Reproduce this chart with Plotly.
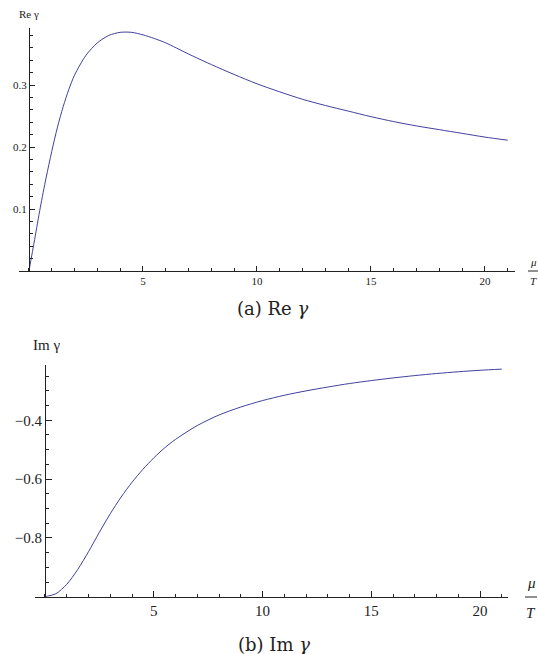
import plotly.graph_objects as go

# ---- data ----
re_x = [0, 0.25, 0.5, 0.75, 1, 1.25, 1.5, 1.75, 2, 2.5, 3, 3.5, 4, 4.5, 5, 5.5, 6, 7, 8, 9, 10,
        11, 12, 13, 14, 15, 16, 17, 18, 19, 20, 21]
re_y = [0, 0.051, 0.103, 0.150, 0.193, 0.232, 0.265, 0.293, 0.316, 0.348, 0.368, 0.380, 0.385,
        0.385, 0.381, 0.375, 0.368, 0.350, 0.333, 0.317, 0.302, 0.289, 0.277, 0.267, 0.258,
        0.249, 0.241, 0.234, 0.228, 0.222, 0.216, 0.211]

im_x = [0, 0.5, 1, 1.5, 2, 2.5, 3, 3.5, 4, 4.5, 5, 5.5, 6, 7, 8, 9, 10, 11, 12, 13, 14, 15,
        16, 17, 18, 19, 20, 21]
im_y = [-1.0, -0.99, -0.958, -0.908, -0.847, -0.781, -0.718, -0.661, -0.611, -0.567, -0.528,
        -0.494, -0.465, -0.418, -0.382, -0.355, -0.333, -0.315, -0.300, -0.287, -0.275, -0.265,
        -0.256, -0.248, -0.241, -0.235, -0.230, -0.226]

x_ticks = [5, 10, 15, 20]
re_ticks = [0.1, 0.2, 0.3]
im_ticks = [-0.8, -0.6, -0.4]
im_ticktext = ["\u22120.8", "\u22120.6", "\u22120.4"]

W, H = 538, 654
LINE = "#40409e"
FONT = "Liberation Serif, Times New Roman, serif"
CAPFONT = "DejaVu Serif, serif"


def px(x):
    return x / W


def py(y):
    return 1 - y / H


fig = go.Figure()
fig.add_trace(go.Scatter(x=re_x, y=re_y, mode="lines", line=dict(color=LINE, width=1,
                                                              shape="spline", smoothing=0.8),
                         xaxis="x", yaxis="y", showlegend=False, hoverinfo="skip"))
fig.add_trace(go.Scatter(x=im_x, y=im_y, mode="lines", line=dict(color=LINE, width=1,
                                                              shape="spline", smoothing=0.8),
                         xaxis="x2", yaxis="y2", showlegend=False, hoverinfo="skip"))

axis_common = dict(showgrid=False, zeroline=False, showline=True, linecolor="#222",
                   linewidth=1, ticks="inside", tickcolor="#222", tickwidth=1)

fig.update_layout(
    width=W, height=H, autosize=False,
    margin=dict(l=0, r=0, t=0, b=0),
    paper_bgcolor="white", plot_bgcolor="white",
    xaxis=dict(domain=[px(18.7), px(514.6)], range=[-0.45, 21.3], anchor="y",
               tickvals=x_ticks, ticklen=5,
               minor=dict(dtick=1, tick0=0, ticklen=3, ticks="inside", tickcolor="#222"),
               tickfont=dict(family=FONT, size=11, color="#222"), **axis_common),
    yaxis=dict(domain=[py(271), py(28)], range=[0, 0.392], anchor="free", position=px(29),
               tickvals=re_ticks, ticklen=5,
               minor=dict(dtick=0.02, tick0=0, ticklen=3, ticks="inside", tickcolor="#222"),
               tickfont=dict(family=FONT, size=11, color="#222"), **axis_common),
    xaxis2=dict(domain=[px(35.2), px(508.3)], range=[-0.45, 21.3], anchor="y2",
                tickvals=x_ticks, ticklen=6,
                minor=dict(dtick=1, tick0=0, ticklen=3, ticks="inside", tickcolor="#222"),
                tickfont=dict(family=FONT, size=15, color="#222"), **axis_common),
    yaxis2=dict(domain=[py(596.7), py(365)], range=[-1.0, -0.212], anchor="free",
                position=px(45), tickvals=im_ticks, ticktext=im_ticktext, ticklen=6,
                minor=dict(dtick=0.05, tick0=-1, ticklen=3, ticks="inside", tickcolor="#222"),
                tickfont=dict(family=FONT, size=15, color="#222"), **axis_common),
)

ann = []


def text(x, y, s, size, italic=False, family=FONT):
    ann.append(dict(xref="paper", yref="paper", x=px(x), y=py(y),
                    text=(f"<i>{s}</i>" if italic else s),
                    showarrow=False, xanchor="center", yanchor="middle",
                    font=dict(family=family, size=size, color="#222")))


text(29, 14, "Re \u03b3", 11)
text(46, 345, "Im \u03b3", 15)
text(533, 262, "\u03bc", 11, italic=True)
text(533, 281, "T", 11, italic=True)
text(531, 583, "\u03bc", 15, italic=True)
text(531, 613, "T", 15, italic=True)
text(272, 309, "(a) Re <i>\u03b3</i>", 18, family=CAPFONT)
text(274, 644, "(b) Im <i>\u03b3</i>", 18, family=CAPFONT)
fig.update_layout(annotations=ann)

fig.add_shape(type="line", xref="paper", yref="paper", x0=px(528), x1=px(538), y0=py(271),
              y1=py(271), line=dict(color="#222", width=1))
fig.add_shape(type="line", xref="paper", yref="paper", x0=px(525), x1=px(537), y0=py(597),
              y1=py(597), line=dict(color="#222", width=1))

fig.write_html("out.html", config={"displayModeBar": False},
               post_script="document.body.style.margin='0';")
